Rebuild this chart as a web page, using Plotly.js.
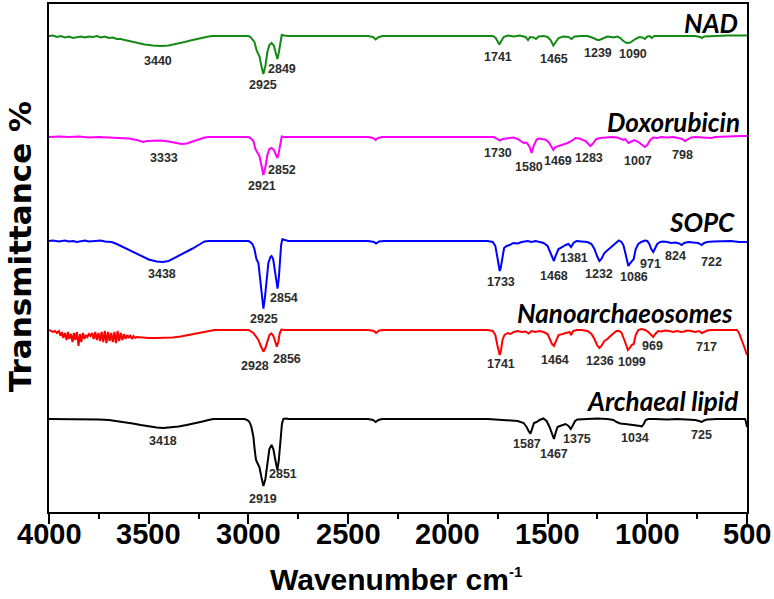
<!DOCTYPE html>
<html>
<head>
<meta charset="utf-8">
<script src="https://cdn.plot.ly/plotly-3.0.1.min.js"></script>
<style>body{margin:0;background:#fff}</style>
</head>
<body>
<div id="chart" style="width:774px;height:599px"></div>
<script>
// ---- series names ----
const seriesNames = ["NAD", "Doxorubicin", "SOPC", "Nanoarchaeosomes", "Archaeal lipid"];
// baseline offsets of each stacked spectrum (a.u.)
const offsets = [476, 375, 271, 182, 93];

// ---- NAD ----
const wnNAD = [4000,3980,3960,3940,3920,3900,3880,3860,3840,3820,3800,3780,3760,3740,3720,3700,3680,3660,3640,3620,3600,3560,3520,3480,3440,3400,3360,3320,3280,3240,3200,3180,3100,3000,2990,2975,2970,2958,2945,2935,2925,2915,2905,2895,2884,2872,2862,2855,2848,2840,2833,2820,2800,2400,2375,2362,2350,2330,1900,1800,1775,1760,1748,1742,1735,1720,1700,1670,1640,1610,1598,1588,1570,1558,1545,1520,1500,1485,1471,1460,1445,1420,1395,1380,1365,1330,1300,1270,1250,1240,1225,1200,1180,1170,1150,1135,1120,1103,1085,1070,1060,1040,1025,1012,1000,988,978,965,940,900,850,800,760,735,727,715,680,600,500];
const tNAD = [0,0.5,-1,0,-1.5,-0.5,-2,-1,-0.5,-1.5,-0.5,-1,0,-1.5,-0.5,-2,-1.5,-3,-3,-4,-5,-7,-8.5,-9.5,-10,-9.5,-8,-6,-4,-2,-0.5,0,0,0,-1,-4,-6,-15,-20,-30,-38,-30,-16,-9,-7,-10,-18,-23,-17,-5,1,0.5,0,0,-1,-3.5,-1.5,0,0,0.5,0,-2,-7,-8.5,-6,-1,0.5,-0.5,0.5,-1,-4,-1,-1.5,-3,-0.5,0,-1,-4,-9.5,-6,-2,-0.5,-1,-3,-0.5,0,0,-2,-4,-4,-2.5,-0.5,-1,-1.5,-0.5,-2,-5,-7,-6.5,-4,-3,-1,-1.5,-3,-0.5,0,-2,0,0,0,0.5,0,0,-1,-2,-0.5,0,0.5,0.5];

// ---- Doxorubicin ----
const wnDOX = [4000,3950,3900,3850,3800,3750,3700,3650,3600,3560,3540,3527,3510,3480,3440,3400,3360,3335,3310,3280,3250,3220,3200,3100,3000,2990,2975,2965,2955,2945,2935,2925,2915,2905,2895,2884,2872,2862,2855,2848,2840,2833,2820,2400,2375,2362,2350,2330,1800,1770,1755,1739,1725,1700,1672,1650,1630,1620,1605,1590,1580,1570,1555,1545,1530,1513,1495,1480,1471,1460,1445,1425,1400,1380,1360,1340,1310,1295,1286,1275,1255,1235,1210,1180,1150,1130,1120,1110,1095,1085,1065,1045,1025,1012,1000,985,971,950,930,900,870,840,825,811,795,780,760,720,700,680,660,620,600,560,530,500];
const tDOX = [0,0.5,0,0.5,-0.5,0,-0.5,-1,-1.5,-3,-4.5,-5,-4,-3.5,-3.5,-4.5,-6,-7,-6.5,-4.5,-2.5,-0.5,0,0,0,-1,-4,-12,-15,-19,-28,-38,-30,-18,-12,-11,-13,-18,-21,-16,-5,0.5,0,0,-1,-3,-1,0,0,0,-1.5,-3.5,-2,-1,-0.5,-2,-5,-6,-5.5,-10,-16,-9,-2.5,-1.5,-2,-2.5,-5,-10,-13,-10,-9,-8,-6,-4,-1,-1.5,-4,-7,-9,-7,-2,-1,-0.5,0,-0.5,-2,-3,-2,-6,-5,-3,-5,-8,-10,-8,-3,-0.5,-1,0,-0.5,0,-1,-2,-4,-2,-0.5,0,-0.5,0,-1,0,0.5,0,0.5,1,1];

// ---- SOPC ----
const wnSOPC = [4000,3980,3950,3920,3900,3880,3860,3840,3820,3800,3770,3740,3720,3700,3686,3660,3630,3600,3570,3540,3500,3460,3430,3400,3370,3340,3310,3280,3250,3220,3200,3100,3000,2990,2980,2970,2960,2950,2940,2932,2925,2918,2910,2900,2890,2884,2876,2866,2858,2854,2848,2842,2836,2830,2820,2800,2400,2370,2360,2345,2320,1800,1775,1762,1752,1745,1740,1735,1727,1718,1705,1690,1672,1650,1630,1600,1580,1560,1540,1520,1500,1490,1478,1468,1460,1445,1425,1410,1395,1382,1370,1355,1330,1300,1280,1265,1252,1240,1230,1215,1198,1180,1160,1143,1130,1120,1110,1100,1095,1085,1078,1068,1058,1045,1030,1012,1000,990,980,970,960,950,935,920,900,880,860,840,828,815,795,770,745,735,727,715,700,670,620,580,540,500];
const tSOPC = [0,0.5,-0.5,0.5,-0.5,0,-1,0,0.5,-0.5,0,0.5,-0.5,-0.5,-1,-3,-6,-9,-12,-15,-18.5,-20.5,-21,-20,-17,-14,-11,-7.5,-4,-0.5,0,0,0,-1,-3,-8,-18,-22,-38,-55,-67.7,-58,-38,-22,-16,-15,-18,-32,-45,-47.7,-38,-20,-4,1.7,1,0,0,-1,-2.5,-0.5,0,0,-1,-5,-16,-27,-30,-27,-15,-7,-5,-4,-2,-2.5,-1,0,-1,0,-1,-2,-5,-10,-16,-20,-15,-8,-6,-4,-3,-6,-2,0,-0.5,-1,-3,-8,-15,-20,-18,-12,-9,-6,-2,0.5,-1,-4,-12,-22,-25,-22,-20,-18,-8,-3,-1,0.5,0,-3,-8,-11,-7,-3,-1,-0.5,-1,-2,-1.5,-2.5,-4,-2,-1,-1.5,-2,-3,-4,-2,-1,-0.5,-0.5,0,-1,-1];

// ---- Nanoarchaeosomes ----
const wnNANO = [4000,3990,3980,3970,3960,3950,3942,3935,3928,3920,3912,3905,3898,3890,3882,3875,3868,3860,3852,3845,3838,3830,3822,3815,3808,3800,3792,3784,3776,3768,3760,3752,3744,3736,3728,3720,3712,3704,3696,3688,3680,3672,3664,3656,3648,3640,3632,3624,3616,3608,3600,3592,3584,3576,3568,3560,3540,3500,3460,3420,3380,3340,3300,3260,3220,3190,3170,3000,2990,2975,2960,2950,2940,2930,2925,2915,2905,2895,2885,2875,2865,2858,2850,2843,2835,2820,2400,2370,2360,2345,2320,1800,1775,1762,1752,1745,1740,1734,1726,1716,1700,1685,1670,1650,1630,1610,1595,1580,1560,1540,1520,1500,1488,1478,1468,1458,1445,1425,1405,1390,1382,1372,1355,1330,1300,1280,1265,1252,1240,1230,1215,1200,1185,1170,1155,1142,1130,1115,1105,1097,1088,1078,1068,1058,1045,1030,1010,995,980,970,960,945,930,910,890,870,850,830,815,800,780,760,740,727,715,700,680,640,600,570,551,540,530,520,510,500];
const tNANO = [0,-1,-2,-1,-3,-1,-6,-2,-8,-3,-10,-2,-9,-4,-12,-3,-10,-2,-16,-4,-12,-3,-9,-5,-7,-4,-6,-3,-9,-2,-10,-3,-11,-2,-12,-1,-13,-2,-11,-3,-12,-2,-13,-1,-11,-3,-10,-4,-9,-5,-8,-5,-9,-6,-8,-7,-7.5,-8,-8,-8,-7.5,-6.5,-5,-3.5,-2,-0.5,0,0,-1,-3,-7,-10,-15,-20,-21.7,-18,-10,-5,-3.5,-6,-12,-16.7,-12,-3,0.5,0,0,-1,-3,-0.5,0,0,-1,-5,-15,-23,-25,-21,-10,-5,-3,-4,-2,-1,-2,-1.5,-3.5,-1,-2,-1,-2,-4,-9,-14,-16,-11,-5,-4,-3,-2,-5,-1,0,0,-1,-4,-9,-15,-18,-16,-11,-9,-6,-3,-1,-1,-2.5,-10,-17,-20,-18,-15,-14,-5,0,1,0,-2,-5,-7,-4,-1,-1.5,-0.5,-1,-2,-1,-2,-1.5,-0.5,-1,-2,-1,-3,-2,-0.5,0,0,0,0.5,0,-3,-8,-13,-19,-25];

// ---- Archaeal lipid ----
const wnARCH = [4000,3900,3800,3750,3700,3660,3620,3580,3540,3500,3460,3427,3390,3350,3310,3270,3230,3200,3176,3100,3020,3005,2995,2985,2975,2968,2962,2955,2945,2935,2925,2915,2905,2895,2884,2875,2866,2858,2855,2848,2840,2832,2825,2810,2800,2400,2375,2362,2348,2330,1800,1760,1720,1680,1650,1620,1605,1595,1586,1578,1568,1555,1540,1521,1505,1490,1478,1468,1460,1450,1438,1425,1410,1395,1384,1375,1362,1350,1320,1250,1200,1170,1154,1135,1110,1090,1070,1050,1035,1028,1018,1008,995,960,900,850,800,760,740,727,715,700,650,600,550,510,505,500];
const tARCH = [0,0,0,-0.5,-1,-2,-3,-4.5,-6,-7.5,-8.5,-9,-8.5,-7.5,-6,-4.5,-2.5,-1,0,0,0,-1,-3,-8,-18,-32,-41,-44,-48,-58,-67,-60,-42,-30,-26,-30,-40,-50,-51,-42,-22,-5,0,0.5,0,0,-1,-3,-1,0,0,-0.5,-1,-1.5,-2,-4,-8,-12,-14.7,-10,-4,-3,-1,0.5,-2,-8,-15,-20,-14,-8,-7,-6,-5,-7,-10,-7,-2,-0.5,0,0.5,0,-1,-3,-4.5,-5,-5.5,-5.5,-6,-7,-7.5,-5,-1,0,0,-0.5,0,-0.5,-1,-2,-3,-1.5,-0.5,0,0,0,0,-3,-8];

const wnList = [wnNAD, wnDOX, wnSOPC, wnNANO, wnARCH];
const tList = [tNAD, tDOX, tSOPC, tNANO, tARCH];
const colors = ["#138a13", "#ff00ff", "#0000ff", "#ff0000", "#000000"];

// ---- x tick labels ----
const xTicks = [4000, 3500, 3000, 2500, 2000, 1500, 1000, 500];
const xTickText = ["4000", "3500", "3000", "2500", "2000", "1500", "1000", "500"];

// ---- peak labels ----
const peakText = ["3440","2925","2849","1741","1465","1239","1090",
  "3333","2921","2852","1730","1580","1469","1283","1007","798",
  "3438","2925","2854","1733","1468","1381","1232","1086","971","824","722",
  "2928","2856","1741","1464","1236","1099","969","717",
  "3418","2919","2851","1587","1467","1375","1034","725"];
const peakX = [3453,2927,2832,1749,1468,1247,1072,
  3423,2932,2832,1749,1593,1448,1292,1047,821,
  3433,2922,2822,1734,1468,1368,1242,1067,982,861,676,
  2967,2807,1734,1463,1237,1077,972,701,
  3428,2927,2827,1603,1468,1353,1062,726];
const peakY = [451,427,443,455,453,459,458,
  354,326,342,359,345,351,354,351,357,
  238,193,214,230,236,254,238,235,248,256,250,
  146,153,148,152,151,150,166,165,
  71,13,38,68,58,73,74,77];

// series name label positions
const nameX = [535, 525, 550, 560, 535];
const nameY = [489, 390, 290, 199, 111];

const traces = seriesNames.map((n, i) => ({
  type: "scatter", mode: "lines", name: n,
  x: wnList[i], y: tList[i].map(v => v + offsets[i]),
  line: {color: colors[i], width: 2}, hoverinfo: "skip"
}));

const annotations = [];
peakText.forEach((t, i) => annotations.push({
  text: t, x: peakX[i], y: peakY[i], xref: "x", yref: "y", showarrow: false,
  font: {family: "Liberation Sans, Arial", size: 12.5, color: "#2b2b2b", weight: "bold"}
}));
seriesNames.forEach((n, i) => annotations.push({
  text: "<b><i>" + n + "</i></b>", x: nameX[i], y: nameY[i], xref: "x", yref: "y",
  xanchor: "right", showarrow: false,
  font: {family: "Lato, Open Sans", size: 26, color: "#000"}
}));
// x tick labels
xTicks.forEach((v, i) => annotations.push({
  text: xTickText[i], x: v, xref: "x", yref: "paper", y: -0.043,
  xanchor: "center", yanchor: "middle", showarrow: false,
  font: {family: "Liberation Sans, Arial", size: 29, color: "#000", weight: "bold"}
}));
// x-axis title
annotations.push({
  text: "<b>Wavenumber cm<sup><span style=\"font-size:15px\">-1</span></sup></b>",
  xref: "paper", yref: "paper", x: 0.497, y: -0.132, xanchor: "center", yanchor: "middle",
  showarrow: false, font: {family: "Liberation Sans, Arial", size: 30, color: "#000"}
});
// y-axis title
annotations.push({
  text: "<b>Transmittance %</b>",
  xref: "paper", yref: "paper", x: -0.042, y: 0.5226, xanchor: "center", yanchor: "middle",
  textangle: -90, showarrow: false,
  font: {family: "DejaVu Sans", size: 31, color: "#000"}
});

const layout = {
  width: 774, height: 599,
  margin: {l: 49, r: 27, t: 4, b: 87},
  paper_bgcolor: "#fff", plot_bgcolor: "#fff",
  showlegend: false,
  xaxis: {
    range: [4000, 500], tickvals: xTicks, showticklabels: false,
    ticks: "outside", ticklen: 10, tickwidth: 2, tickcolor: "#000",
    minor: {dtick: 250, ticks: "outside", ticklen: 5, tickwidth: 2, tickcolor: "#000"},
    showline: true, mirror: true, linewidth: 2, linecolor: "#000",
    showgrid: false, zeroline: false
  },
  yaxis: {
    range: [0, 508], showticklabels: false, ticks: "",
    showline: true, mirror: true, linewidth: 2, linecolor: "#000",
    showgrid: false, zeroline: false
  },
  annotations: annotations
};

Plotly.newPlot("chart", traces, layout, {displayModeBar: false, staticPlot: true});
</script>
</body>
</html>
